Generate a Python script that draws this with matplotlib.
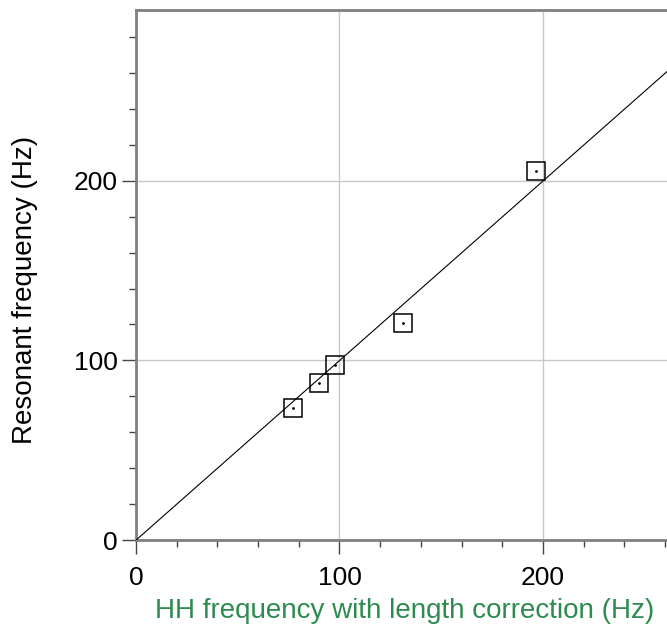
import numpy as np
import matplotlib
matplotlib.use("Agg")
import matplotlib.pyplot as plt
from matplotlib.ticker import MultipleLocator

plt.rcParams['font.family'] = ['Liberation Sans', 'DejaVu Sans']

# datos
hh_freq = [77, 89.7, 98, 131, 196.6]
resonant_freq = [73.5, 87.5, 97.5, 121, 205.5]

# ajuste lineal por el origen
x = np.array(hh_freq)
y = np.array(resonant_freq)
pendiente = (x * y).sum() / (x * x).sum()

fig = plt.figure(figsize=(6.67, 6.28), dpi=100)
ax = fig.add_axes([0.204, 0.140, 0.796, 0.844])

xs = np.array([0, 270])
ax.plot(xs, pendiente * xs, color='black', linewidth=0.8, zorder=3)
ax.plot(hh_freq, resonant_freq, linestyle='none', marker='s', markersize=13,
        markerfacecolor='none', markeredgecolor='black', markeredgewidth=1.1, zorder=4)
ax.plot(hh_freq, resonant_freq, linestyle='none', marker='.', markersize=2,
        color='black', zorder=5)

ax.set_xlim(0, 261)
ax.set_ylim(0, 295)
ax.xaxis.set_major_locator(MultipleLocator(100))
ax.xaxis.set_minor_locator(MultipleLocator(20))
ax.yaxis.set_major_locator(MultipleLocator(100))
ax.yaxis.set_minor_locator(MultipleLocator(20))
ax.grid(True, which='major', color='#c8c8c8', linewidth=1.0)
ax.set_axisbelow(True)

for lado in ['left', 'bottom', 'top']:
    ax.spines[lado].set_color('#808080')
    ax.spines[lado].set_linewidth(2)
ax.spines['right'].set_visible(False)

ax.tick_params(which='major', direction='out', length=10, width=1, color='#444444',
               labelsize=19)
ax.tick_params(axis='x', which='major', pad=9)
ax.tick_params(axis='y', which='major', pad=3)
ax.tick_params(which='minor', direction='out', length=5, width=1, color='#444444')

ax.set_xlabel('HH frequency with length correction (Hz)', fontsize=20, color='#2e8b50')
ax.set_ylabel('Resonant frequency (Hz)', fontsize=20, color='black')
ax.xaxis.set_label_coords(0.506, -0.134)
ax.xaxis.label.set_va('center')
ax.yaxis.set_label_coords(-0.209, 0.472)
ax.yaxis.label.set_va('center')

fig.savefig('out.png', dpi=100)
